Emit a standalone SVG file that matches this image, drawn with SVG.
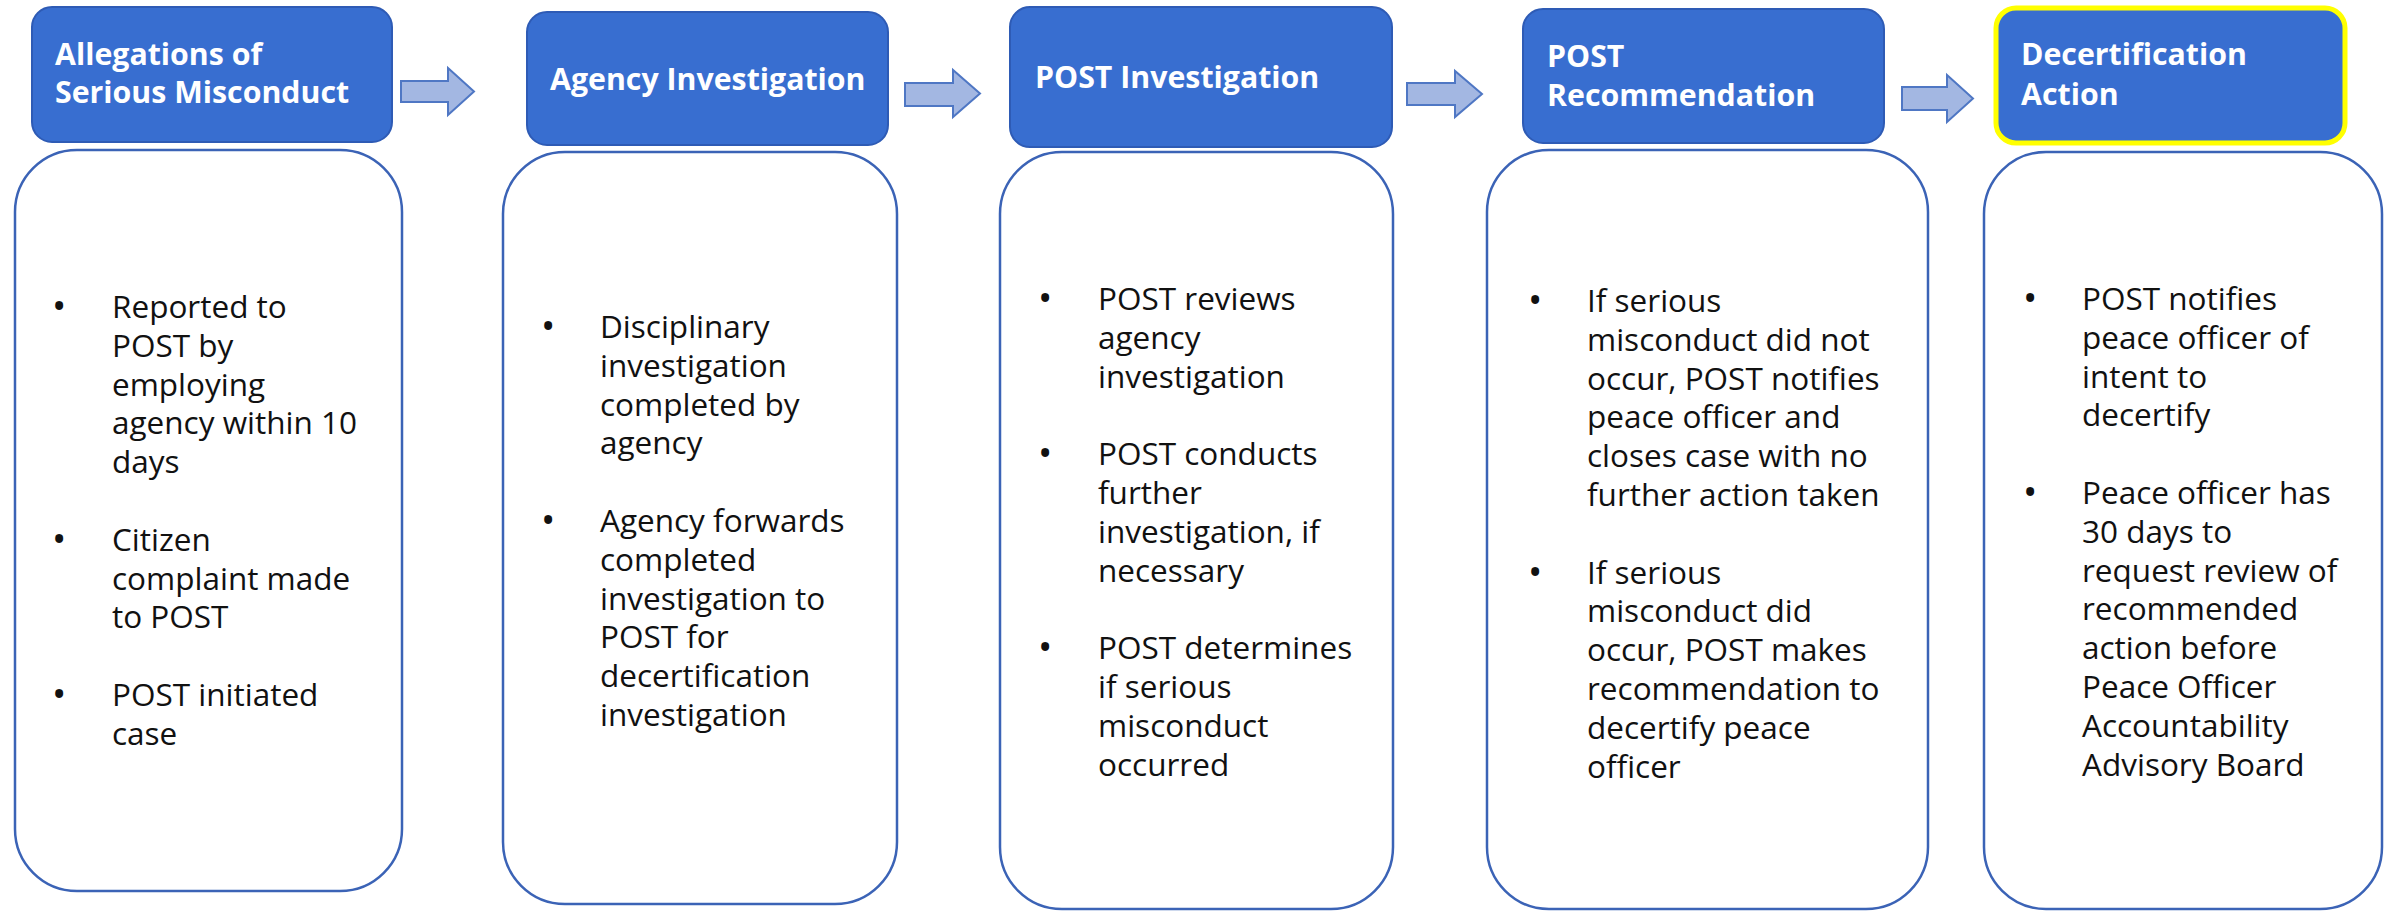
<svg xmlns="http://www.w3.org/2000/svg" width="2392" height="912" viewBox="0 0 2392 912">
<style>
.hdr{fill:#386ED0;stroke:#2E5BB5;stroke-width:2}
.hl{stroke:#FFFF00;stroke-width:5}
.body{fill:#FFFFFF;stroke:#3B63B6;stroke-width:2.5}
.arrow{fill:#A3B7E2;stroke:#4F77C4;stroke-width:2}
.ht{font-family:"Open Sans","Liberation Sans",sans-serif;font-weight:bold;font-size:30.3px;fill:#FFFFFF}
.bt{font-family:"Open Sans","Liberation Sans",sans-serif;font-size:31.5px;fill:#111111}
.bu{font-family:"Open Sans","Liberation Sans",sans-serif;font-size:38px;fill:#111111}
</style>
<rect width="2392" height="912" fill="#FFFFFF"/>
<g id="connectors">
<path class="arrow" d="M401,81 H448 V68 L474,91.5 L448,115 V102 H401 Z"/>
<path class="arrow" d="M905,83 H953 V70 L980,93.5 L953,117 V106 H905 Z"/>
<path class="arrow" d="M1407,83 H1455 V71 L1482,94 L1455,117 V105 H1407 Z"/>
<path class="arrow" d="M1902,87 H1947 V75 L1973,98.5 L1947,122 V110 H1902 Z"/>
</g>
<g id="step1">
<rect class="hdr" x="32" y="7" width="360" height="135" rx="20"/>
<text class="ht" x="55" y="65">Allegations of<tspan x="55" y="103">Serious Misconduct</tspan></text>
<rect class="body" x="15" y="150" width="387" height="741" rx="62"/>
<text class="bu" x="52" y="320">•<tspan x="52" y="552.8">•</tspan><tspan x="52" y="708">•</tspan></text>
<text class="bt" x="112" y="318">Reported to<tspan x="112" dy="38.8">POST by</tspan><tspan x="112" dy="38.8">employing</tspan><tspan x="112" dy="38.8">agency within 10</tspan><tspan x="112" dy="38.8">days</tspan><tspan x="112" dy="77.6">Citizen</tspan><tspan x="112" dy="38.8">complaint made</tspan><tspan x="112" dy="38.8">to POST</tspan><tspan x="112" dy="77.6">POST initiated</tspan><tspan x="112" dy="38.8">case</tspan></text>
</g>
<g id="step2">
<rect class="hdr" x="527" y="12" width="361" height="133" rx="20"/>
<text class="ht" x="550" y="90">Agency Investigation</text>
<rect class="body" x="503" y="152" width="394" height="752" rx="62"/>
<text class="bu" x="541" y="340">•<tspan x="541" y="534">•</tspan></text>
<text class="bt" x="600" y="338">Disciplinary<tspan x="600" dy="38.8">investigation</tspan><tspan x="600" dy="38.8">completed by</tspan><tspan x="600" dy="38.8">agency</tspan><tspan x="600" dy="77.6">Agency forwards</tspan><tspan x="600" dy="38.8">completed</tspan><tspan x="600" dy="38.8">investigation to</tspan><tspan x="600" dy="38.8">POST for</tspan><tspan x="600" dy="38.8">decertification</tspan><tspan x="600" dy="38.8">investigation</tspan></text>
</g>
<g id="step3">
<rect class="hdr" x="1010" y="7" width="382" height="140" rx="20"/>
<text class="ht" x="1035" y="88">POST Investigation</text>
<rect class="body" x="1000" y="152" width="393" height="757" rx="62"/>
<text class="bu" x="1038" y="312">•<tspan x="1038" y="467.2">•</tspan><tspan x="1038" y="661.2">•</tspan></text>
<text class="bt" x="1098" y="310">POST reviews<tspan x="1098" dy="38.8">agency</tspan><tspan x="1098" dy="38.8">investigation</tspan><tspan x="1098" dy="77.6">POST conducts</tspan><tspan x="1098" dy="38.8">further</tspan><tspan x="1098" dy="38.8">investigation, if</tspan><tspan x="1098" dy="38.8">necessary</tspan><tspan x="1098" dy="77.6">POST determines</tspan><tspan x="1098" dy="38.8">if serious</tspan><tspan x="1098" dy="38.8">misconduct</tspan><tspan x="1098" dy="38.8">occurred</tspan></text>
</g>
<g id="step4">
<rect class="hdr" x="1523" y="9" width="361" height="134" rx="20"/>
<text class="ht" x="1547" y="67">POST<tspan x="1547" y="106">Recommendation</tspan></text>
<rect class="body" x="1487" y="150" width="441" height="759" rx="62"/>
<text class="bu" x="1528" y="314">•<tspan x="1528" y="585.6">•</tspan></text>
<text class="bt" x="1587" y="312">If serious<tspan x="1587" dy="38.8">misconduct did not</tspan><tspan x="1587" dy="38.8">occur, POST notifies</tspan><tspan x="1587" dy="38.8">peace officer and</tspan><tspan x="1587" dy="38.8">closes case with no</tspan><tspan x="1587" dy="38.8">further action taken</tspan><tspan x="1587" dy="77.6">If serious</tspan><tspan x="1587" dy="38.8">misconduct did</tspan><tspan x="1587" dy="38.8">occur, POST makes</tspan><tspan x="1587" dy="38.8">recommendation to</tspan><tspan x="1587" dy="38.8">decertify peace</tspan><tspan x="1587" dy="38.8">officer</tspan></text>
</g>
<g id="step5">
<rect class="hdr hl" x="1996" y="8" width="349" height="135" rx="20"/>
<text class="ht" x="2021" y="65">Decertification<tspan x="2021" y="105">Action</tspan></text>
<rect class="body" x="1984" y="152" width="398" height="757" rx="62"/>
<text class="bu" x="2023" y="312">•<tspan x="2023" y="506">•</tspan></text>
<text class="bt" x="2082" y="310">POST notifies<tspan x="2082" dy="38.8">peace officer of</tspan><tspan x="2082" dy="38.8">intent to</tspan><tspan x="2082" dy="38.8">decertify</tspan><tspan x="2082" dy="77.6">Peace officer has</tspan><tspan x="2082" dy="38.8">30 days to</tspan><tspan x="2082" dy="38.8">request review of</tspan><tspan x="2082" dy="38.8">recommended</tspan><tspan x="2082" dy="38.8">action before</tspan><tspan x="2082" dy="38.8">Peace Officer</tspan><tspan x="2082" dy="38.8">Accountability</tspan><tspan x="2082" dy="38.8">Advisory Board</tspan></text>
</g>
</svg>
